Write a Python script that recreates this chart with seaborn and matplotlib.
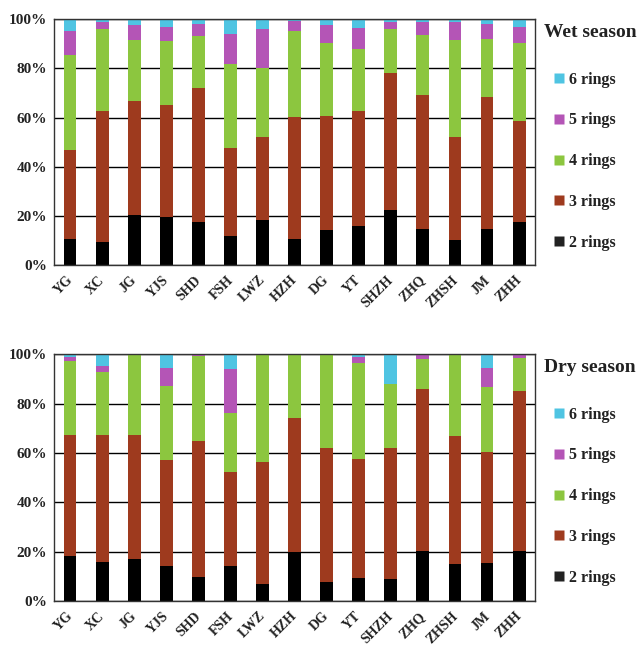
import matplotlib
matplotlib.use("Agg")
import matplotlib.pyplot as plt
import matplotlib.transforms as mtransforms
import numpy as np
import pandas as pd
import seaborn as sns
from matplotlib.lines import Line2D

sns.set_style("white")
plt.rcParams["font.family"] = ["Liberation Serif", "DejaVu Serif"]
plt.rcParams["font.weight"] = "bold"

SITES = ["YG", "XC", "JG", "YJS", "SHD", "FSH", "LWZ", "HZH",
         "DG", "YT", "SHZH", "ZHQ", "ZHSH", "JM", "ZHH"]
RINGS = ["2 rings", "3 rings", "4 rings", "5 rings", "6 rings"]
COLORS = ["#000000", "#9E3A1E", "#8CC63F", "#B455B6", "#4FC4E2"]
LEGEND_COLORS = ["#222222", "#9E3A1E", "#8CC63F", "#B455B6", "#4FC4E2"]

# percentage of each ring class per site, wet season
wet_2 = [10.7, 9.2, 20.4, 19.4, 17.5, 11.7, 18.2, 10.7, 14.2, 16.1, 22.5, 14.7, 10.3, 14.7, 17.6]
wet_3 = [36.2, 53.6, 46.2, 45.9, 54.4, 35.8, 33.8, 49.5, 46.5, 46.6, 55.5, 54.5, 41.8, 53.8, 41.2]
wet_4 = [38.4, 33.3, 25.0, 25.9, 21.2, 34.3, 28.2, 34.9, 29.5, 25.1, 18.1, 24.6, 39.6, 23.6, 31.4]
wet_5 = [9.8, 2.8, 6.0, 5.7, 5.0, 12.4, 15.9, 4.4, 7.5, 8.8, 2.8, 5.1, 7.1, 6.0, 6.8]
wet_6 = [4.9, 1.1, 2.4, 3.1, 1.9, 5.8, 3.9, 0.5, 2.3, 3.4, 1.1, 1.1, 1.2, 1.9, 3.0]

# dry season
dry_2 = [18.4, 15.9, 17.0, 14.1, 9.6, 14.1, 6.8, 20.0, 7.7, 9.3, 8.8, 20.4, 15.1, 15.5, 20.4]
dry_3 = [48.9, 51.4, 50.3, 42.9, 55.4, 38.1, 49.7, 54.2, 54.3, 48.3, 53.2, 65.5, 51.7, 44.9, 64.6]
dry_4 = [29.9, 25.5, 32.2, 29.9, 34.3, 24.0, 43.4, 25.4, 37.5, 38.6, 26.1, 12.2, 32.9, 26.4, 13.6]
dry_5 = [1.7, 2.5, 0.4, 7.3, 0.4, 17.6, 0.0, 0.4, 0.3, 2.7, 0.0, 1.4, 0.3, 7.5, 1.0]
dry_6 = [1.1, 4.7, 0.1, 5.8, 0.3, 6.2, 0.1, 0.0, 0.2, 1.1, 11.9, 0.5, 0.0, 5.7, 0.4]


def stacked(fig, ax, layers, title):
    cum = np.cumsum(np.array(layers), axis=0)
    # draw from the top layer down so each shorter bar sits in front
    for i in range(len(layers) - 1, -1, -1):
        df = pd.DataFrame({"site": SITES, "value": cum[i]})
        sns.barplot(data=df, x="site", y="value", color=COLORS[i],
                    width=0.4, saturation=1, edgecolor="none", ax=ax)
    ax.set_ylim(0, 100)
    ax.set_xlim(-0.5, len(SITES) - 0.5)
    ax.set_yticks(range(0, 101, 20))
    ax.set_yticklabels([f"{v}%" for v in range(0, 101, 20)])
    ax.set_xlabel("")
    ax.set_ylabel("")
    ax.yaxis.grid(True, color="black", linewidth=1.0)
    ax.set_axisbelow(True)
    for s in ax.spines.values():
        s.set_visible(True)
        s.set_color("#333333")
        s.set_linewidth(1.0)
    ax.tick_params(axis="y", length=0, labelsize=11, colors="#222222", pad=5)
    ax.tick_params(axis="x", length=0, labelsize=10, colors="#222222", pad=6)
    shift = mtransforms.ScaledTranslation(-4 / 100, 0, fig.dpi_scale_trans)
    for lab in ax.get_xticklabels():
        lab.set_rotation(45)
        lab.set_ha("right")
        lab.set_rotation_mode("anchor")
        lab.set_fontweight("bold")
        lab.set_transform(lab.get_transform() + shift)
    plt.setp(ax.get_yticklabels(), fontweight="bold")

    handles = [Line2D([], [], marker="s", linestyle="none", markersize=7.5,
                      markerfacecolor=LEGEND_COLORS[i], markeredgecolor="none",
                      label=RINGS[i]) for i in range(len(RINGS) - 1, -1, -1)]
    ax.text(1.019, 0.947, title, transform=ax.transAxes, fontsize=14,
            fontweight="bold", color="#222222", va="center", ha="left")
    leg = ax.legend(handles=handles, loc="upper left", bbox_to_anchor=(1.02, 0.813),
                    frameon=False, fontsize=11.5, labelspacing=1.55,
                    handletextpad=0.1, handlelength=1.0, borderaxespad=0)
    for t in leg.get_texts():
        t.set_color("#222222")
        t.set_fontweight("bold")


fig = plt.figure(figsize=(6.39, 6.45), dpi=100)
ax1 = fig.add_axes([0.0845, 0.589, 0.753, 0.381])
ax2 = fig.add_axes([0.0845, 0.068, 0.753, 0.383])

stacked(fig, ax1, [wet_2, wet_3, wet_4, wet_5, wet_6], "Wet season")
stacked(fig, ax2, [dry_2, dry_3, dry_4, dry_5, dry_6], "Dry season")

fig.savefig("out.png", dpi=100)
